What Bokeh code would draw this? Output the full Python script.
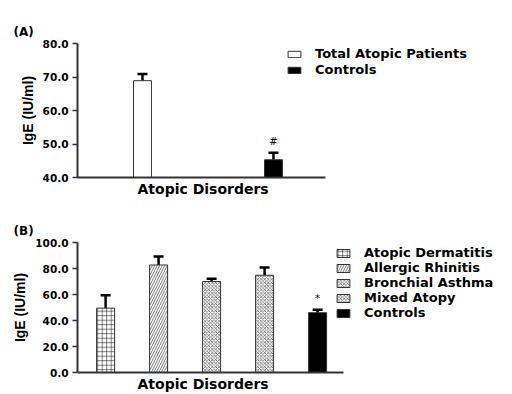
import numpy as np
from bokeh.plotting import figure
from bokeh.models import (ColumnDataSource, Range1d, Whisker, TeeHead, FixedTicker,
                          NumeralTickFormatter, Title)
from bokeh.layouts import column
from bokeh.embed import file_html
from bokeh.resources import INLINE
from bokeh.core.properties import value

# ---------------- data ----------------
top_groups = ["Total Atopic Patients", "Controls"]
top_means = [68.9, 45.3]
top_errs = [2.0, 2.1]
top_marks = ["", "#"]
top_fill = ["white", "black"]
top_hatch = ["blank", "blank"]
top_hscale = [4, 4]
top_yticks = [40, 50, 60, 70, 80]

bot_groups = ["Atopic Dermatitis", "Allergic Rhinitis", "Bronchial Asthma", "Mixed Atopy", "Controls"]
bot_means = [49.5, 82.7, 70.0, 74.8, 46.0]
bot_errs = [10.0, 6.5, 2.2, 5.9, 2.2]
bot_marks = ["", "", "", "", "*"]
bot_fill = ["white", "white", "white", "white", "black"]
bot_hatch = ["cross", "right_diagonal_line", "diagonal_cross", "diagonal_cross", "blank"]
bot_hscale = [4.5, 5, 3.5, 3.5, 4]
bot_yticks = [0, 20, 40, 60, 80, 100]

x_label = "Atopic Disorders"
y_label = "IgE (IU/ml)"

HFONT = "DejaVu Sans"
VFONT = "Liberation Sans"


def make_panel(groups, means, errs, marks, fills, hatches, hscales, yticks, tag,
               width, height, mb_left, mb_top, mb_bottom,
               xpad_left, xpad_right, unit_px, bar_w, leg_loc, glyph_h, leg_spacing,
               xlab_offset, xlab_standoff):
    x = np.arange(len(groups))
    src = ColumnDataSource(dict(
        x=x, mean=means, upper=[m + e for m, e in zip(means, errs)],
        group=groups, mark=marks, fill=fills, hatch=hatches, hscale=hscales))
    frame_w = width - mb_left
    x_start = -xpad_left
    x_end = x_start + frame_w / unit_px
    p = figure(width=width, height=height, output_backend="svg", toolbar_location=None,
               x_range=Range1d(x_start, x_end),
               y_range=Range1d(yticks[0], yticks[-1]),
               min_border_left=mb_left, min_border_right=0,
               min_border_top=mb_top, min_border_bottom=mb_bottom)
    p.outline_line_color = None
    p.grid.visible = False
    p.background_fill_color = "white"
    p.border_fill_color = "white"

    p.add_layout(Title(text=tag, align="left", offset=-64,
                       text_font=HFONT, text_font_size="12px", text_font_style="bold",
                       text_color="black"), "above")
    # x-axis caption, centred under the drawn part of the axis
    p.add_layout(Title(text=x_label, align="left", offset=xlab_offset, standoff=xlab_standoff,
                       text_font=HFONT, text_font_size="14px", text_font_style="bold",
                       text_color="black"), "below")

    w = Whisker(source=src, base="x", upper="upper", lower="mean", dimension="height",
                line_color="black", line_width=2.5,
                upper_head=TeeHead(size=10, line_width=2.5, line_color="black"),
                lower_head=None)
    p.add_layout(w)

    p.vbar(x="x", top="mean", bottom=yticks[0], width=bar_w, source=src,
           fill_color="fill", line_color="#333333", line_width=1,
           hatch_pattern="hatch", hatch_color="#222222", hatch_scale="hscale", hatch_weight=0.6,
           legend_field="group")

    p.text(x="x", y="upper", text="mark", source=src, text_align="center",
           text_baseline="bottom", y_offset=-6, text_font=value(HFONT),
           text_font_size="10px", text_color="black")

    # axes
    p.yaxis.ticker = FixedTicker(ticks=yticks)
    p.yaxis.formatter = NumeralTickFormatter(format="0.0")
    p.yaxis.axis_label = y_label
    p.yaxis.axis_label_text_font = VFONT
    p.yaxis.axis_label_text_font_size = "14px"
    p.yaxis.axis_label_text_font_style = "bold"
    p.yaxis.axis_label_standoff = 4
    p.yaxis.major_label_text_font = HFONT
    p.yaxis.major_label_text_font_size = "10.5px"
    p.yaxis.major_label_text_font_style = "bold"
    p.yaxis.major_label_text_color = "black"
    p.yaxis.major_label_standoff = 4
    p.yaxis.major_tick_out = 5
    p.yaxis.major_tick_in = 0
    p.yaxis.minor_tick_line_color = None

    p.xaxis.ticker = FixedTicker(ticks=[])
    p.xaxis.bounds = (x_start, len(groups) - 1 + xpad_right)
    p.xaxis.major_label_text_font_size = "0px"
    p.xaxis.major_tick_line_color = None
    p.xaxis.minor_tick_line_color = None
    p.xaxis.major_label_standoff = 0

    for ax in (p.xaxis, p.yaxis):
        ax.axis_line_color = "#333333"
        ax.axis_line_width = 2
        ax.major_tick_line_width = 1.5
        ax.axis_label_text_color = "black"
    p.yaxis.major_tick_line_color = "#333333"

    leg = p.legend[0]
    leg.location = leg_loc
    leg.border_line_color = None
    leg.background_fill_alpha = 0
    leg.padding = 0
    leg.margin = 0
    leg.spacing = leg_spacing
    leg.glyph_width = 16
    leg.glyph_height = glyph_h
    leg.label_standoff = 13
    leg.label_height = 14
    leg.label_text_font = HFONT
    leg.label_text_font_size = "13px"
    leg.label_text_font_style = "bold"
    leg.label_text_color = "black"
    return p


p1 = make_panel(top_groups, top_means, top_errs, top_marks, top_fill, top_hatch, top_hscale,
                top_yticks, "(A)", 510, 200, 77, 43, 23, 0.496, 0.397, 131, 0.137,
                (209, 100), 8, 1, 60, 2)
p2 = make_panel(bot_groups, bot_means, bot_errs, bot_marks, bot_fill, bot_hatch, bot_hscale,
                bot_yticks, "(B)", 510, 193, 77, 42, 21, 0.53, 0.49, 53, 0.34,
                (258, 52), 10, 0, 60, 2)

layout = column(p1, p2, spacing=0)
open("out.html", "w").write(file_html(layout, INLINE))
